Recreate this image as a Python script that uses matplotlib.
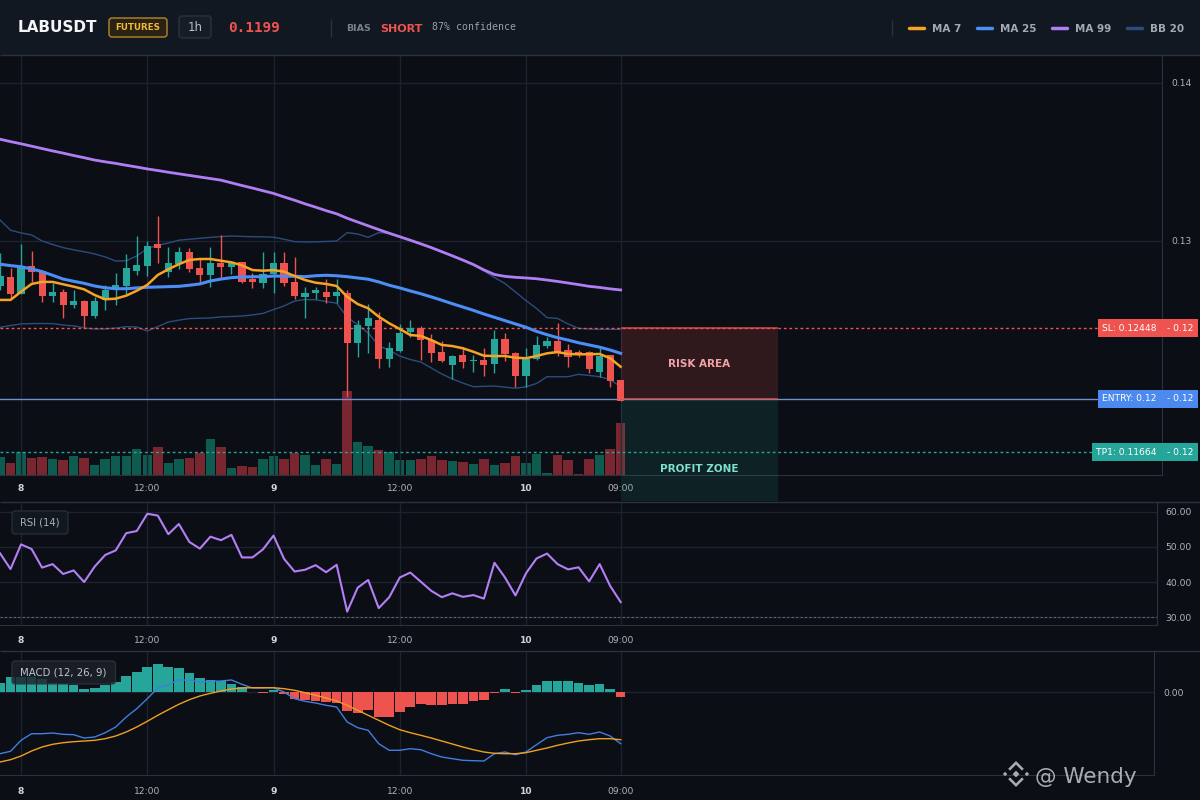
import numpy as np
import matplotlib.pyplot as plt
import matplotlib.transforms as mtransforms
from matplotlib.patches import Rectangle, FancyBboxPatch, Polygon
from matplotlib.ticker import FormatStrFormatter

# ---------------- data ----------------
# hourly candles from 22:00 on the 7th to 09:00 on the 10th (hour 0 = day 8, 00:00)
hours = np.arange(-2, 58)

opens = [0.12715, 0.12772, 0.12666, 0.12842, 0.12812, 0.12652, 0.12675, 0.12597, 0.12620, 0.12525,
         0.12627, 0.12690, 0.12715, 0.12810, 0.12844, 0.12983, 0.12804, 0.12854, 0.12930, 0.12829,
         0.12787, 0.12861, 0.12837, 0.12867, 0.12759, 0.12736, 0.12793, 0.12863, 0.12741, 0.12647,
         0.12673, 0.12677, 0.12654, 0.12669, 0.12356, 0.12464, 0.12500, 0.12253, 0.12304, 0.12426,
         0.12449, 0.12373, 0.12297, 0.12217, 0.12278, 0.12239, 0.12247, 0.12223, 0.12380, 0.12291,
         0.12148, 0.12253, 0.12335, 0.12367, 0.12310, 0.12297, 0.12299, 0.12173, 0.12277, 0.12120]
highs = [0.12924, 0.12827, 0.12981, 0.12937, 0.12815, 0.12732, 0.12694, 0.12690, 0.12627, 0.12647,
         0.12722, 0.12799, 0.12918, 0.13032, 0.13000, 0.13160, 0.12962, 0.12962, 0.12958, 0.12884,
         0.12962, 0.13038, 0.12870, 0.12870, 0.12796, 0.12932, 0.12932, 0.12930, 0.12897, 0.12711,
         0.12711, 0.12759, 0.12759, 0.12690, 0.12500, 0.12601, 0.12551, 0.12363, 0.12473, 0.12500,
         0.12462, 0.12411, 0.12367, 0.12278, 0.12327, 0.12278, 0.12321, 0.12437, 0.12420, 0.12295,
         0.12321, 0.12399, 0.12394, 0.12483, 0.12346, 0.12310, 0.12302, 0.12321, 0.12278, 0.12120]
lows = [0.12690, 0.12631, 0.12665, 0.12742, 0.12616, 0.12616, 0.12515, 0.12574, 0.12456, 0.12515,
        0.12563, 0.12597, 0.12665, 0.12783, 0.12778, 0.12863, 0.12774, 0.12825, 0.12806, 0.12736,
        0.12707, 0.12761, 0.12791, 0.12736, 0.12704, 0.12704, 0.12673, 0.12715, 0.12633, 0.12511,
        0.12631, 0.12606, 0.12606, 0.12015, 0.12268, 0.12293, 0.12198, 0.12204, 0.12299, 0.12394,
        0.12247, 0.12236, 0.12232, 0.12127, 0.12198, 0.12171, 0.12146, 0.12166, 0.12241, 0.12078,
        0.12078, 0.12247, 0.12321, 0.12272, 0.12204, 0.12268, 0.12166, 0.12137, 0.12078, 0.11990]
closes = [0.12778, 0.12666, 0.12842, 0.12806, 0.12652, 0.12675, 0.12597, 0.12620, 0.12527, 0.12620,
          0.12690, 0.12722, 0.12829, 0.12848, 0.12968, 0.12956, 0.12861, 0.12930, 0.12825, 0.12787,
          0.12861, 0.12837, 0.12867, 0.12742, 0.12742, 0.12791, 0.12863, 0.12736, 0.12652, 0.12673,
          0.12690, 0.12647, 0.12677, 0.12356, 0.12468, 0.12513, 0.12253, 0.12323, 0.12416, 0.12449,
          0.12373, 0.12293, 0.12241, 0.12272, 0.12236, 0.12247, 0.12217, 0.12380, 0.12285, 0.12148,
          0.12251, 0.12342, 0.12367, 0.12299, 0.12268, 0.12283, 0.12188, 0.12272, 0.12116, 0.11990]
# volume in thousands
volume = [183, 123, 230, 173, 183, 163, 153, 193, 173, 103, 163, 193, 193, 263, 203, 283, 123, 163, 173, 223,
          363, 283, 73, 93, 83, 163, 193, 163, 223, 200, 100, 160, 110, 840, 330, 290, 250, 230, 150, 150,
          160, 190, 150, 140, 130, 110, 160, 100, 120, 190, 120, 210, 20, 200, 150, 10, 160, 200, 260, 520]

ma7 = [0.12627, 0.12627, 0.12679, 0.12728, 0.12741, 0.12741, 0.12726, 0.12711, 0.12694, 0.12658,
       0.12631, 0.12635, 0.12654, 0.12685, 0.12722, 0.12785, 0.12821, 0.12853, 0.12880, 0.12886,
       0.12886, 0.12875, 0.12865, 0.12846, 0.12816, 0.12812, 0.12816, 0.12806, 0.12778, 0.12753,
       0.12736, 0.12728, 0.12715, 0.12647, 0.12601, 0.12574, 0.12521, 0.12479, 0.12443, 0.12405,
       0.12399, 0.12373, 0.12342, 0.12335, 0.12321, 0.12299, 0.12274, 0.12272, 0.12272, 0.12261,
       0.12258, 0.12272, 0.12289, 0.12297, 0.12285, 0.12283, 0.12283, 0.12285, 0.12258, 0.12204]
ma25 = [0.12853, 0.12844, 0.12837, 0.12823, 0.12806, 0.12783, 0.12759, 0.12745, 0.12732, 0.12715,
        0.12704, 0.12698, 0.12698, 0.12703, 0.12707, 0.12709, 0.12711, 0.12713, 0.12720, 0.12728,
        0.12747, 0.12759, 0.12768, 0.12772, 0.12774, 0.12774, 0.12778, 0.12777, 0.12777, 0.12774,
        0.12780, 0.12783, 0.12780, 0.12774, 0.12766, 0.12758, 0.12741, 0.12720, 0.12703, 0.12684,
        0.12666, 0.12646, 0.12625, 0.12603, 0.12582, 0.12561, 0.12538, 0.12517, 0.12496, 0.12475,
        0.12454, 0.12428, 0.12407, 0.12388, 0.12373, 0.12356, 0.12342, 0.12328, 0.12310, 0.12289]
ma99 = [0.13644, 0.13629, 0.13615, 0.13600, 0.13585, 0.13570, 0.13556, 0.13541, 0.13527, 0.13512,
        0.13501, 0.13491, 0.13479, 0.13468, 0.13456, 0.13446, 0.13435, 0.13425, 0.13415, 0.13405,
        0.13395, 0.13385, 0.13368, 0.13351, 0.13335, 0.13318, 0.13301, 0.13279, 0.13258, 0.13235,
        0.13214, 0.13192, 0.13172, 0.13144, 0.13120, 0.13096, 0.13072, 0.13049, 0.13027, 0.13005,
        0.12982, 0.12958, 0.12932, 0.12906, 0.12879, 0.12851, 0.12817, 0.12788, 0.12776, 0.12770,
        0.12766, 0.12761, 0.12753, 0.12744, 0.12734, 0.12724, 0.12713, 0.12706, 0.12697, 0.12690]
bb_upper = [0.13133, 0.13068, 0.13051, 0.13038, 0.13000, 0.12978, 0.12958, 0.12944, 0.12932, 0.12918,
            0.12899, 0.12873, 0.12875, 0.12905, 0.12952, 0.12973, 0.12987, 0.13005, 0.13011, 0.13017,
            0.13023, 0.13028, 0.13031, 0.13029, 0.13027, 0.13026, 0.13024, 0.13011, 0.12996, 0.12994,
            0.12994, 0.12997, 0.13000, 0.13053, 0.13044, 0.13023, 0.13053, 0.13049, 0.13028, 0.13003,
            0.12981, 0.12959, 0.12935, 0.12908, 0.12883, 0.12848, 0.12810, 0.12769, 0.12731, 0.12677,
            0.12623, 0.12573, 0.12515, 0.12510, 0.12475, 0.12447, 0.12443, 0.12441, 0.12441, 0.12441]
bb_lower = [0.12454, 0.12465, 0.12475, 0.12477, 0.12478, 0.12477, 0.12468, 0.12463, 0.12450, 0.12443,
            0.12444, 0.12449, 0.12458, 0.12456, 0.12430, 0.12458, 0.12487, 0.12499, 0.12509, 0.12511,
            0.12513, 0.12520, 0.12522, 0.12525, 0.12532, 0.12542, 0.12566, 0.12589, 0.12620, 0.12630,
            0.12628, 0.12617, 0.12606, 0.12519, 0.12470, 0.12418, 0.12337, 0.12308, 0.12272, 0.12250,
            0.12234, 0.12196, 0.12158, 0.12127, 0.12101, 0.12078, 0.12080, 0.12082, 0.12075, 0.12068,
            0.12077, 0.12098, 0.12141, 0.12141, 0.12141, 0.12156, 0.12149, 0.12141, 0.12123, 0.12078]

rsi = [48.2, 43.7, 50.7, 49.4, 44.1, 45.1, 42.3, 43.3, 40.0, 44.4,
       47.7, 49.0, 53.9, 54.5, 59.4, 58.9, 53.6, 56.5, 51.4, 49.5,
       52.9, 51.9, 53.4, 47.0, 47.0, 49.3, 53.2, 46.6, 43.0, 43.5,
       44.8, 42.8, 44.9, 31.6, 38.4, 40.6, 32.6, 35.7, 41.3, 42.7,
       40.1, 37.5, 35.7, 36.8, 35.8, 36.3, 35.3, 45.5, 41.3, 36.2,
       42.5, 46.7, 48.1, 45.1, 43.6, 44.2, 40.2, 45.1, 38.9, 34.3]

# MACD values in units of 1e-5
macd_line = [-61.7, -59.3, -48.3, -41.7, -41.7, -41, -42.3, -42.7, -46, -45,
             -40.7, -35, -25, -16.7, -6.7, 4, 7.3, 12.3, 11.7, 10,
             10.7, 11, 12, 7.7, 4, 4, 4.3, 0, -6.7, -9.3,
             -11, -13.3, -15, -30, -35.7, -38.3, -51.7, -58.3, -58.3, -56.7,
             -57.7, -61.7, -65, -66.7, -68.3, -68.7, -69, -61.7, -60, -62.7,
             -60, -52.7, -45.7, -43.3, -42.3, -40.7, -42.3, -40, -44, -51.7]
macd_signal = [-70, -67.7, -64, -59, -55, -52.3, -50.7, -49.7, -49, -48.3,
               -46.7, -44, -40, -35, -29.3, -23.3, -17.7, -12.3, -7.7, -4,
               -1.3, 1, 3, 4, 4.3, 4.3, 4.3, 3.3, 1.7, -0.7,
               -3.3, -6, -9, -13.3, -18.3, -23.3, -28.3, -33.3, -37.7, -40.7,
               -43.3, -46, -49, -52, -55, -57.7, -60, -61.3, -61.7, -61.7,
               -60.7, -58.3, -56, -53.3, -51, -49, -47.7, -46.7, -46.7, -47.7]
macd_hist = [9, 15, 15, 15, 13, 9, 8, 7, 3, 4,
             7, 10, 16, 20, 25, 28, 25, 24, 19, 14,
             12, 11, 8, 5, -0.3, -1, 2, -2.3, -7, -7.7,
             -9.3, -10, -10.7, -19.3, -20.7, -18, -24.7, -25.3, -20.3, -15.3,
             -12.3, -13.3, -13.3, -12.3, -11.7, -9.3, -8.3, -1.3, 2.7, -1.3,
             1.7, 6.7, 10.7, 10.7, 10.7, 9.3, 6.7, 7.7, 3, -5.3]

tick_hours = [0, 12, 24, 36, 48, 57]
tick_labels = ['8', '12:00', '9', '12:00', '10', '09:00']

symbol = 'LABUSDT'
last_price = 0.1199
bias = 'SHORT'
confidence = 87
stop_loss = 0.12448
entry = 0.12
take_profit = 0.11664

# ---------------- style ----------------
BG = '#0b0e14'
HEAD = '#121821'
GRID = '#1b2230'
EDGE = '#2a3140'
UP = '#26a69a'
DOWN = '#ef5350'
UP_VOL = '#0e5b4f'
DOWN_VOL = '#7a2630'
C_MA7 = '#f7a325'
C_MA25 = '#4c8df6'
C_MA99 = '#b07ef4'
C_BB = '#2b4c7e'
TXT = '#b2b5be'

W, H = 1200, 800


def box(left, top, right, bottom):
    # pixel box (y down) -> figure fraction rect
    return [left / W, 1 - bottom / H, (right - left) / W, (bottom - top) / H]


def style_panel(a, xmax, pad_x, pad_y):
    a.set_facecolor('none')
    a.set_xlim(-2, xmax)
    a.set_xticks(tick_hours)
    a.set_xticklabels(tick_labels)
    a.tick_params(axis='x', length=0, pad=pad_x, labelsize=6.6, labelcolor=TXT)
    a.yaxis.tick_right()
    a.tick_params(axis='y', length=0, pad=pad_y, labelsize=6.6, labelcolor=TXT)
    for lab, t in zip(a.get_xticklabels(), tick_labels):
        if ':' not in t:
            lab.set_fontweight('bold')
            lab.set_color('#d1d4dc')
    a.grid(True, color=GRID, linewidth=1)
    a.set_axisbelow(True)
    for side in ['top', 'left']:
        a.spines[side].set_visible(False)
    for side in ['right', 'bottom']:
        a.spines[side].set_color(EDGE)


fig = plt.figure(figsize=(12, 8), dpi=100, facecolor=BG)

o = np.array(opens)
c = np.array(closes)
up = c >= o
candle_colors = np.where(up, UP, DOWN)
vol_colors = np.where(up, UP_VOL, DOWN_VOL)

'''volume behind the candles'''
main_box = box(0, 55, 1162, 475)
axv = fig.add_axes(main_box, zorder=1)
axv.bar(hours, volume, width=0.9, color=vol_colors, linewidth=0)
axv.set_xlim(-2, 108.46)
axv.set_ylim(0, 4200)
axv.axis('off')

'''price chart'''
ax = fig.add_axes(main_box, zorder=2)
style_panel(ax, 108.46, 6.5, 6.5)
ax.set_ylim(0.11519, 0.14177)
ax.set_yticks([0.13, 0.14])
ax.yaxis.set_major_formatter(FormatStrFormatter('%.2f'))

ax.plot(hours, bb_upper, color=C_BB, lw=1, zorder=2)
ax.plot(hours, bb_lower, color=C_BB, lw=1, zorder=2)
ax.vlines(hours, lows, highs, colors=candle_colors, linewidth=1, zorder=3)
ax.bar(hours, np.maximum(np.abs(c - o), 0.00004), bottom=np.minimum(o, c), width=0.68,
       color=candle_colors, linewidth=0, zorder=4)
ax.plot(hours, ma99, color=C_MA99, lw=2, zorder=5)
ax.plot(hours, ma25, color=C_MA25, lw=2.2, zorder=5)
ax.plot(hours, ma7, color=C_MA7, lw=1.8, zorder=6)

ax.axhline(stop_loss, color=DOWN, lw=1, ls=(0, (2, 2)), zorder=2)
ax.axhline(entry, color='#6e90d6', lw=1, zorder=2)
ax.axhline(take_profit, color=UP, lw=1, ls=(0, (2, 2)), zorder=2)

# risk / profit zones to the right of the last candle
zone_x, zone_w = 57, 15
ax.add_patch(Rectangle((zone_x, entry), zone_w, stop_loss - entry, facecolor=DOWN, alpha=0.16,
                       edgecolor='none', zorder=7))
ax.hlines([stop_loss, entry], zone_x, zone_x + zone_w, colors=DOWN, lw=1.2, alpha=0.8, zorder=7)
ax.add_patch(Rectangle((zone_x, 0.11354), zone_w, entry - 0.11354, facecolor=UP, alpha=0.13,
                       edgecolor='none', zorder=7, clip_on=False))
ax.text(zone_x + zone_w / 2, (stop_loss + entry) / 2, 'RISK AREA', ha='center', va='center',
        fontsize=7.5, fontweight='bold', color='#f3a3a6', zorder=8)
ax.text(zone_x + zone_w / 2, 0.11557, 'PROFIT ZONE', ha='center', va='center',
        fontsize=7.5, fontweight='bold', color='#7ee0cf', zorder=8, clip_on=False)

'''RSI'''
ax_rsi = fig.add_axes(box(0, 502, 1157, 625))
style_panel(ax_rsi, 107.98, 7.7, 5.8)
ax_rsi.plot(hours, rsi, color='#b37ff5', lw=1.5)
ax_rsi.axhline(30, color='#5d6573', lw=0.8, ls=(0, (2, 2)))
ax_rsi.set_ylim(27.8, 62.75)
ax_rsi.set_yticks([30, 40, 50, 60])
ax_rsi.yaxis.set_major_formatter(FormatStrFormatter('%.2f'))

'''MACD'''
ax_macd = fig.add_axes(box(0, 651, 1154, 775))
style_panel(ax_macd, 107.70, 8.4, 6.5)
hist = np.array(macd_hist) * 1e-5
ax_macd.bar(hours, hist, width=0.92, color=np.where(hist >= 0, UP, DOWN), linewidth=0)
ax_macd.plot(hours, np.array(macd_line) * 1e-5, color='#3f7fe0', lw=1)
ax_macd.plot(hours, np.array(macd_signal) * 1e-5, color='#f0a020', lw=1)
ax_macd.set_ylim(-83e-5, 41e-5)
ax_macd.set_yticks([0])
ax_macd.yaxis.set_major_formatter(FormatStrFormatter('%.2f'))

'''overlay in pixel coordinates: header, separators, labels, watermark'''
ov = fig.add_axes([0, 0, 1, 1], zorder=10)
ov.set_xlim(0, W)
ov.set_ylim(H, 0)
ov.axis('off')

ov.add_patch(Rectangle((0, 0), W, 55, facecolor=HEAD, edgecolor='none'))
ov.hlines([55, 501.5, 651], 0, W, colors=EDGE, lw=1)

ov.text(18, 28, symbol, fontsize=11, fontweight='bold', color='#f2f4f8', va='center')
ov.add_patch(FancyBboxPatch((109, 18), 58, 19, boxstyle='round,pad=0,rounding_size=3',
                            facecolor='#2a2213', edgecolor='#b8862b', lw=1))
ov.text(138, 27.8, 'FUTURES', fontsize=6.3, fontweight='bold', color='#f0b93a', ha='center', va='center')
ov.add_patch(FancyBboxPatch((179, 16), 32, 22, boxstyle='round,pad=0,rounding_size=3',
                            facecolor='#171d27', edgecolor=EDGE, lw=1))
ov.text(195, 27.5, '1h', fontsize=8.5, color='#b8bec8', ha='center', va='center')
ov.text(228, 28, f'{last_price}', fontsize=10.4, fontweight='bold', family='DejaVu Sans Mono',
        color=DOWN, va='center')
ov.vlines(331, 19, 37, colors=EDGE, lw=1)
ov.text(346, 28.5, 'BIAS', fontsize=6.8, fontweight='bold', color='#7a808b', va='center')
ov.text(380, 28.5, bias, fontsize=8, fontweight='bold', color=DOWN, va='center')
ov.text(432, 27.5, f'{confidence}% confidence', fontsize=7.1, family='DejaVu Sans Mono',
        color='#9aa0a9', va='center')

# legend
ov.vlines(892, 20, 36, colors=EDGE, lw=1)
for x0, col, name in [(909, C_MA7, 'MA 7'), (977, C_MA25, 'MA 25'),
                      (1052, C_MA99, 'MA 99'), (1127, C_BB, 'BB 20')]:
    ov.plot([x0, x0 + 15], [27.5, 27.5], color=col, lw=2.5, solid_capstyle='round')
    ov.text(x0 + 23, 28.5, name, fontsize=7.5, fontweight='bold', color='#a3a9b4', va='center')

# price level tags on the right edge
tag_tf = mtransforms.blended_transform_factory(ov.transData, ax.transData)
for price, name, col in [(stop_loss, 'SL', DOWN), (entry, 'ENTRY', '#4d8af0'), (take_profit, 'TP1', UP)]:
    ax.text(1157, price, f'{name}: {price}', transform=tag_tf, ha='right', va='center',
            fontsize=6.6, color='white', zorder=20, clip_on=False,
            bbox=dict(boxstyle='square,pad=0.5', fc=col, ec='none'))
    ax.text(1167, price, f'- {price:.2f}', transform=tag_tf, ha='left', va='center',
            fontsize=6.6, color='white', zorder=20, clip_on=False,
            bbox=dict(boxstyle='square,pad=0.5', fc=col, ec='none'))

# indicator titles
ov.add_patch(FancyBboxPatch((12, 511), 56, 23, boxstyle='round,pad=0,rounding_size=3',
                            facecolor='#121820', edgecolor='#262d3a', lw=1))
ov.text(40, 522.5, 'RSI (14)', fontsize=7.2, color='#aab0ba', ha='center', va='center')
ov.add_patch(FancyBboxPatch((12, 661), 103.5, 23, boxstyle='round,pad=0,rounding_size=3',
                            facecolor='#1c212b', alpha=0.8, edgecolor='#2e3542', lw=1))
ov.text(63.7, 672.5, 'MACD (12, 26, 9)', fontsize=7.3, color='#c0c5ce', ha='center', va='center')

# watermark
WM = '#c4c8cf'
cx, cy, s = 1016, 774, 13
chev = np.array([(0, -1), (0.6, -0.4), (0.46, -0.26), (0, -0.72), (-0.46, -0.26), (-0.6, -0.4)])
for sign in (1, -1):
    ov.add_patch(Polygon(chev * [1, sign] * s + [cx, cy], closed=True, fc=WM, ec='none', alpha=0.85))
diamond = np.array([(0, -1), (1, 0), (0, 1), (-1, 0)])
for dx, r in [(0, 0.26), (-0.84, 0.17), (0.84, 0.17)]:
    ov.add_patch(Polygon(diamond * r * s + [cx + dx * s, cy], closed=True, fc=WM, ec='none', alpha=0.85))
ov.text(1035, 783, '@ Wendy', fontsize=15.5, color=WM, alpha=0.85, va='baseline')

plt.savefig('out.png', dpi=100, facecolor=BG)
